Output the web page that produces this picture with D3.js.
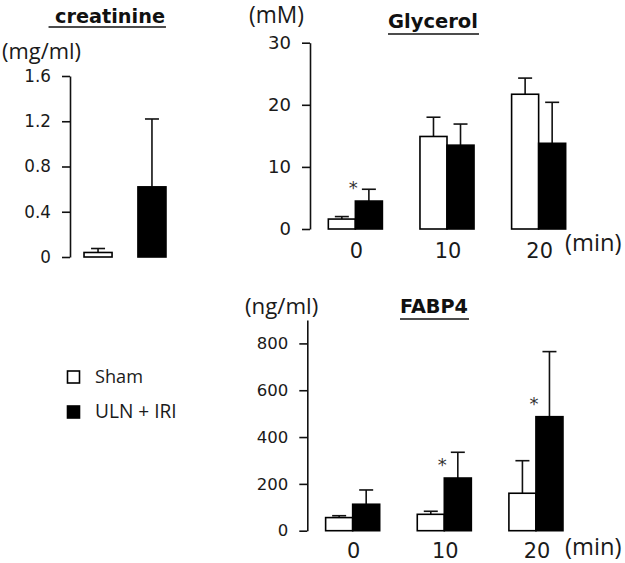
<!DOCTYPE html>
<html><head><meta charset="utf-8">
<script src="https://cdn.jsdelivr.net/npm/d3@7"></script>
<style>
body{margin:0;background:#fff;}
svg{display:block;}
</style></head>
<body>
<svg id="c" width="625" height="563"></svg>
<script>
// ---- data ----
const groups = ["Sham", "ULN + IRI"];
const creatMean = [0.04, 0.62];
const creatSD = [0.035, 0.60];
const creatTicks = [0, 0.4, 0.8, 1.2, 1.6];
const creatTickLabels = ["0", "0.4", "0.8", "1.2", "1.6"];

const timeLabels = ["0", "10", "20"];
const glyShamMean = [1.6, 14.9, 21.7];
const glyShamSD = [0.4, 3.1, 2.6];
const glyUlnMean = [4.5, 13.5, 13.8];
const glyUlnSD = [1.9, 3.4, 6.6];
const glyStars = ["0"];
const glyTicks = [0, 10, 20, 30];

const fabShamMean = [56, 70, 160];
const fabShamSD = [8, 13, 139];
const fabUlnMean = [113, 225, 487];
const fabUlnSD = [61, 110, 278];
const fabStars = ["10", "20"];
const fabTicks = [0, 200, 400, 600, 800];

const svg = d3.select("#c");
const TXT = "#1a1a1a";
const numFont = "DejaVu Sans, Verdana, sans-serif";
const lblFont = "Open Sans, Noto Sans, sans-serif";

// scale a text's font size so its rendered width matches the reference width
function fit(sel, target) {
  const s = parseFloat(sel.style("font-size"));
  const w = sel.node().getComputedTextLength();
  const ns = s * target / w;
  sel.style("font-size", ns + "px");
  return ns;
}

function yAxis(g, y, ticks, fmt, refIdx, refWidth) {
  const ax = d3.axisLeft(y).tickValues(ticks).tickSize(8).tickSizeOuter(0).tickPadding(11)
    .tickFormat(fmt);
  g.call(ax);
  g.select(".domain").attr("stroke", "#111").attr("stroke-width", 1.6);
  g.selectAll(".tick line").attr("stroke", "#111").attr("stroke-width", 1.6);
  const tx = g.selectAll(".tick text").attr("fill", TXT).style("font-family", numFont).style("font-size", "16px");
  const ns = fit(d3.select(tx.nodes()[refIdx]), refWidth);
  tx.style("font-size", ns + "px");
}

function title(x, y, text, lineY, leftExtra, width) {
  const t = svg.append("text").attr("x", x).attr("y", y).attr("text-anchor", "middle")
    .style("font-family", numFont).style("font-weight", "bold").style("font-size", "19px")
    .attr("fill", "#111").text(text);
  fit(t, width);
  const bb = t.node().getBBox();
  svg.append("line").attr("x1", bb.x - leftExtra).attr("x2", bb.x + bb.width + 1)
    .attr("y1", lineY).attr("y2", lineY).attr("stroke", "#111").attr("stroke-width", 1.6);
}

function unit(x, y, text, width) {
  const t = svg.append("text").attr("x", x).attr("y", y).style("font-family", lblFont)
    .style("font-size", "20px").attr("fill", TXT).text(text);
  fit(t, width);
}

function errBar(g, cx, yTop, yEnd) {
  g.append("line").attr("x1", cx).attr("x2", cx).attr("y1", yTop).attr("y2", yEnd)
    .attr("stroke", "#111").attr("stroke-width", 1.6);
  g.append("line").attr("x1", cx - 7).attr("x2", cx + 7).attr("y1", yEnd).attr("y2", yEnd)
    .attr("stroke", "#111").attr("stroke-width", 1.6);
}

// ---- creatinine ----
{
  const y = d3.scaleLinear().domain([0, 1.6]).range([257, 76]);
  const x = d3.scaleBand().domain(groups).range([70, 180]).paddingInner(0.48).paddingOuter(0.26);
  const g = svg.append("g");
  groups.forEach((k, i) => {
    errBar(g, x(k) + x.bandwidth() / 2, y(creatMean[i]), y(creatMean[i] + creatSD[i]));
    g.append("rect").attr("x", x(k)).attr("width", x.bandwidth())
      .attr("y", y(creatMean[i])).attr("height", y(0) - y(creatMean[i]))
      .attr("fill", i === 0 ? "#fff" : "#000").attr("stroke", "#000").attr("stroke-width", 1.6);
  });
  yAxis(svg.append("g").attr("transform", "translate(70,0)"), y, creatTicks,
    (d, i) => creatTickLabels[i], 4, 26.7);
  title(110, 23, "creatinine", 27, 6.5, 110);
  unit(2, 59, "(mg/ml)", 79);
}

function timePanel(axX, y, shamM, shamS, ulnM, ulnS, stars, labelY, minY) {
  const x0 = d3.scaleBand().domain(timeLabels).range([axX, axX + 274]).paddingInner(0.41).paddingOuter(0.2);
  const x1 = d3.scaleBand().domain(groups).range([0, x0.bandwidth()]);
  const g = svg.append("g");
  let labSize = null;
  timeLabels.forEach((t, i) => {
    const vals = [[shamM[i], shamS[i]], [ulnM[i], ulnS[i]]];
    vals.forEach((v, j) => {
      const bx = x0(t) + x1(groups[j]);
      errBar(g, bx + x1.bandwidth() / 2, y(v[0]), y(v[0] + v[1]));
      g.append("rect").attr("x", bx).attr("width", x1.bandwidth())
        .attr("y", y(v[0])).attr("height", y(0) - y(v[0]))
        .attr("fill", j === 0 ? "#fff" : "#000").attr("stroke", "#000").attr("stroke-width", 1.6);
    });
    if (stars.includes(t)) {
      g.append("text").attr("x", x0(t) + x0.bandwidth() / 2 - 2).attr("y", y(ulnM[i]) - 7)
        .attr("text-anchor", "middle").style("font-family", numFont).style("font-size", "18px")
        .attr("fill", "#333").text("*");
    }
    const lt = svg.append("text").attr("x", x0(t) + x0.bandwidth() / 2 + 1).attr("y", labelY)
      .attr("text-anchor", "middle").style("font-family", numFont).style("font-size", "20px")
      .attr("fill", TXT).text(t);
    if (i === 0) labSize = fit(lt, 13.3); else lt.style("font-size", labSize + "px");
  });
  const mt = svg.append("text").attr("x", 565).attr("y", minY).style("font-family", lblFont)
    .style("font-size", "20px").attr("fill", TXT).text("(min)");
  fit(mt, 56.5);
}

// ---- glycerol ----
{
  const y = d3.scaleLinear().domain([0, 30]).range([229, 42.7]);
  timePanel(310, y, glyShamMean, glyShamSD, glyUlnMean, glyUlnSD, glyStars, 258, 251);
  yAxis(svg.append("g").attr("transform", "translate(310,0)"), y, glyTicks, d3.format("d"), 3, 23);
  title(433, 28, "Glycerol", 34, 0, 90);
  unit(249, 23, "(mM)", 55);
}

// ---- FABP4 ----
{
  const y = d3.scaleLinear().domain([0, 900]).range([530.7, 320]);
  timePanel(307.3, y, fabShamMean, fabShamSD, fabUlnMean, fabUlnSD, fabStars, 557.5, 555);
  yAxis(svg.append("g").attr("transform", "translate(307.3,0)"), y, fabTicks, d3.format("d"), 4, 31.6);
  title(434, 313, "FABP4", 319, 0, 68);
  unit(245, 314, "(ng/ml)", 73.3);
}

// ---- legend ----
{
  const lg = svg.append("g");
  const legW = [48, 81.7];
  groups.forEach((k, i) => {
    const yy = [371, 406][i];
    lg.append("rect").attr("x", 67.5).attr("y", yy).attr("width", 12).attr("height", 12)
      .attr("fill", i === 0 ? "#fff" : "#000").attr("stroke", "#000").attr("stroke-width", 1.6);
    const t = lg.append("text").attr("x", 95).attr("y", yy + 12).style("font-family", lblFont)
      .style("font-size", "18px").attr("fill", TXT).text(k);
    fit(t, legW[i]);
  });
}
</script>
</body></html>
